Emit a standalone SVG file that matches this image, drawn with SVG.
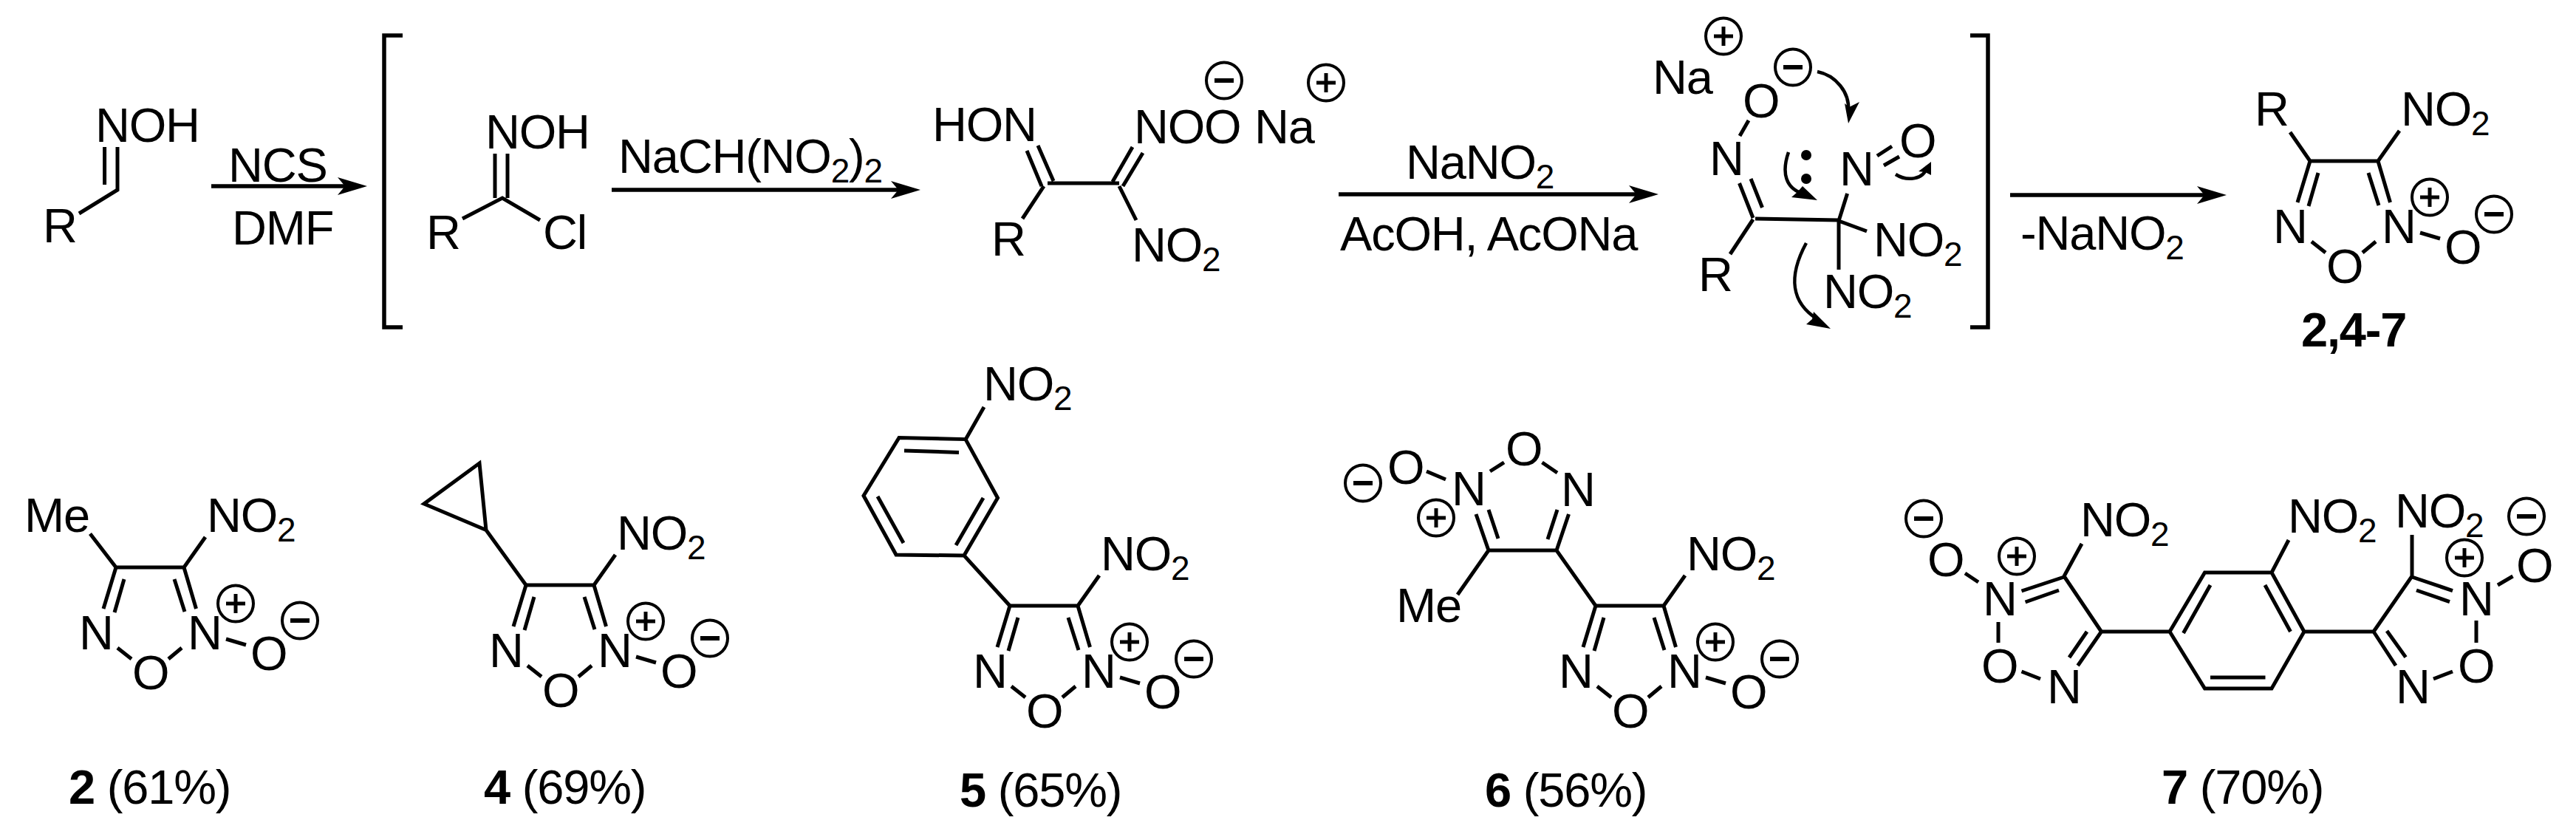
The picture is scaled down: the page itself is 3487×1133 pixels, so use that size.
<svg xmlns="http://www.w3.org/2000/svg" width="3487" height="1133" viewBox="0 0 3487 1133">
<style>
text{font-family:"Liberation Sans",Arial,sans-serif;font-size:65px;letter-spacing:-1.2px;fill:#000}
.s{font-size:46px}
.k{font-weight:bold}
.b{fill:none;stroke:#000;stroke-width:5}
.a{fill:none;stroke:#000;stroke-width:5.5}
.c{fill:none;stroke:#000;stroke-width:4.500}
.h{fill:#000;stroke:none}
</style>
<defs>
<marker id="head" markerUnits="userSpaceOnUse" markerWidth="44" markerHeight="24" viewBox="0 0 40 24" refX="20" refY="12" orient="auto"><path d="M0,0L40,12L0,24L10,12Z" fill="#000"/></marker>
<g id="plus"><ellipse rx="24" ry="24.5" fill="#fff" fill-opacity="0" stroke="#000" stroke-width="4"/><path d="M-13,0H13M0,-13V13" stroke="#000" stroke-width="5"/></g>
<g id="minus"><ellipse rx="24" ry="24.5" fill="#fff" fill-opacity="0" stroke="#000" stroke-width="4"/><path d="M-13,0H13" stroke="#000" stroke-width="6"/></g>
</defs>

<g id="connectors">
<path class="a" d="M286,252H477" marker-end="url(#head)"/>
<path class="a" d="M828,257H1226" marker-end="url(#head)"/>
<path class="a" d="M1812,263H2225" marker-end="url(#head)"/>
<path class="a" d="M2721,264H2994" marker-end="url(#head)"/>
<path class="c" d="M2460,97C2485,102 2504,125 2502,150"/>
<polygon class="h" points="2502,167 2497,140 2503,145 2517,138"/>
<path class="c" d="M2421,206C2411,235 2418,255 2440,262"/>
<polygon class="h" points="2460,271 2425,267 2433,260 2440,252"/>
<path class="c" d="M2445,329C2420,375 2425,410 2460,432"/>
<polygon class="h" points="2478,445 2445,439 2453,432 2455,422"/>
<path class="c" d="M2566,236C2580,245 2604,245 2609,225"/>
<polygon class="h" points="2614,219 2597,232 2606,233 2614,237"/>
</g>

<g id="brackets">
<path class="a" d="M545,48H520V443H545"/>
<path class="a" d="M2667,48H2691V443H2667"/>
</g>

<g id="reagents">
<text x="309" y="246">NCS</text>
<text x="314" y="331">DMF</text>
<text x="837" y="234">NaCH(NO<tspan class="s" dy="13">2</tspan><tspan dy="-13">)</tspan><tspan class="s" dy="13">2</tspan></text>
<text x="1903" y="242">NaNO<tspan class="s" dy="13">2</tspan></text>
<text x="1814" y="339">AcOH, AcONa</text>
<text x="2735" y="338">-NaNO<tspan class="s" dy="13">2</tspan></text>
</g>

<g id="oxime">
<path class="b" d="M141.600,199V250M159,199V257L107,289"/>
<text x="129" y="192">NOH</text>
<text x="58" y="328">R</text>
</g>

<g id="chloro-oxime">
<path class="b" d="M670,208V268M687,208V268M626,296L680,268L731,298"/>
<text x="657" y="201">NOH</text>
<text x="577" y="337">R</text>
<text x="735" y="337">Cl</text>
</g>

<g id="nitronate">
<path class="b" d="M1405,197L1426,245M1390,204L1410,252M1418,248H1515M1533,199L1506,246M1547,207L1520,252M1413,252L1384,296M1515,252L1538,298"/>
<text x="1262" y="191">HON</text>
<text x="1342" y="346">R</text>
<text x="1532" y="354">NO<tspan class="s" dy="13">2</tspan></text>
<text x="1535" y="194">NOO</text>
<text x="1698" y="194">Na</text>
<use href="#minus" x="1657" y="109"/>
<use href="#plus" x="1795" y="112"/>
</g>

<g id="intermediate">
<path class="b" d="M2367,163L2355,184M2370,242L2385.500,281M2354.500,248L2373,295M2376,296L2489,298M2373,297L2342,344M2489,299L2527,313M2489,299V365M2489,299L2500.600,262M2541,211L2561,198M2550,224L2571,212"/>
<text x="2237" y="127">Na</text>
<use href="#plus" x="2333" y="49"/>
<text x="2359" y="159">O</text>
<use href="#minus" x="2427" y="91"/>
<text x="2314" y="237">N</text>
<text x="2299" y="394">R</text>
<text x="2536" y="347">NO<tspan class="s" dy="13">2</tspan></text>
<text x="2468" y="417">NO<tspan class="s" dy="13">2</tspan></text>
<text x="2490" y="251">N</text>
<text x="2571" y="213">O</text>
<circle class="h" cx="2445" cy="210" r="7"/>
<circle class="h" cx="2445" cy="242" r="7"/>
</g>

<g id="product" transform="translate(2970,-550)">
<path class="b" d="M157,768H249M157,768L140,824M168,784L155,829M249,768L265.500,824M236,784L250,828M159,877L178,892M246,877L228,892M306,865L333,873M278,727L249,768M130,729L157,768"/>
<text x="107" y="879">N</text><text x="254" y="879">N</text><text x="179" y="933">O</text><text x="339" y="907">O</text>
<use href="#plus" x="319" y="817"/><use href="#minus" x="406" y="840"/>
<text x="280" y="720">NO<tspan class="s" dy="13">2</tspan></text>
<text x="82" y="720">R</text>
<text class="k" x="145" y="1019">2,4-7</text>
</g>

<g id="mol-2">
<path class="b" d="M157,768H249M157,768L140,824M168,784L155,829M249,768L265.500,824M236,784L250,828M159,877L178,892M246,877L228,892M306,865L333,873M278,727L249,768M122,722.500L157,768"/>
<text x="107" y="879">N</text><text x="254" y="879">N</text><text x="179" y="933">O</text><text x="339" y="907">O</text>
<use href="#plus" x="319" y="817"/><use href="#minus" x="406" y="840"/>
<text x="280" y="720">NO<tspan class="s" dy="13">2</tspan></text>
<text x="33" y="720">Me</text>
<text x="93" y="1088"><tspan class="k">2</tspan> (61%)</text>
</g>

<g id="mol-4">
<g transform="translate(555,24)">
<path class="b" d="M157,768H249M157,768L140,824M168,784L155,829M249,768L265.500,824M236,784L250,828M159,877L178,892M246,877L228,892M306,865L333,873M278,727L249,768"/>
<text x="107" y="879">N</text><text x="254" y="879">N</text><text x="179" y="933">O</text><text x="339" y="907">O</text>
<use href="#plus" x="319" y="817"/><use href="#minus" x="406" y="840"/>
<text x="280" y="720">NO<tspan class="s" dy="13">2</tspan></text>
</g>
<path class="b" d="M712,792L658,717.500L574,682L649,627L658,717.500"/>
<text x="655" y="1088"><tspan class="k">4</tspan> (69%)</text>
</g>

<g id="mol-5">
<g transform="translate(1210,52)">
<path class="b" d="M157,768H249M157,768L140,824M168,784L155,829M249,768L265.500,824M236,784L250,828M159,877L178,892M246,877L228,892M306,865L333,873M278,727L249,768"/>
<text x="107" y="879">N</text><text x="254" y="879">N</text><text x="179" y="933">O</text><text x="339" y="907">O</text>
<use href="#plus" x="319" y="817"/><use href="#minus" x="406" y="840"/>
<text x="280" y="720">NO<tspan class="s" dy="13">2</tspan></text>
</g>
<path class="b" d="M1367,820L1305,752L1350.500,674L1307,594.600L1217,592.500L1169,671L1213,751L1305,752M1224,610L1298,612.500M1188,672L1223,735M1331,674L1294,738M1332,551L1307,595"/>
<text x="1331" y="542">NO<tspan class="s" dy="13">2</tspan></text>
<text x="1299" y="1092"><tspan class="k">5</tspan> (65%)</text>
</g>

<g id="mol-6">
<g transform="translate(2003,52)">
<path class="b" d="M157,768H249M157,768L140,824M168,784L155,829M249,768L265.500,824M236,784L250,828M159,877L178,892M246,877L228,892M306,865L333,873M278,727L249,768"/>
<text x="107" y="879">N</text><text x="254" y="879">N</text><text x="179" y="933">O</text><text x="339" y="907">O</text>
<use href="#plus" x="319" y="817"/><use href="#minus" x="406" y="840"/>
<text x="280" y="720">NO<tspan class="s" dy="13">2</tspan></text>
</g>
<path class="b" d="M2160,820L2107,745H2015M2107,745L2123.500,696M2095,730L2108,690M2015,745L1998,696M2028,729L2015,690M2036,626L2017,638M2087.500,626L2108,640M1931,638L1957,649M2015,745L1973,805"/>
<text x="2113" y="685">N</text>
<text x="1965" y="684">N</text>
<text x="2038" y="630">O</text>
<text x="1878" y="655">O</text>
<use href="#minus" x="1845" y="654"/>
<use href="#plus" x="1944" y="701"/>
<text x="1890" y="842">Me</text>
<text x="2010" y="1092"><tspan class="k">6</tspan> (56%)</text>
</g>

<g id="mol-7">
<path class="b" d="M2818,736L2794,780L2844.500,855M2794,781L2736.500,800M2787,799L2741.600,815M2844.500,855L2812.600,901M2825,855L2801,890M2705,842V870M2736.500,909L2762,919M2660,776L2678,788M2844.500,855H2937M2937,855L2984.500,775H3075L3119,855L3075,932H2984.500L2937,855M2992,792L2955.500,857M3066,792L3100.500,855M2992,917H3066.500M3098,731L3075,775M3119,855H3213M3213,855L3265,780V724M3265,781L3320,799.600M3271,799L3316,814.600M3213,855L3243,901M3231,854L3256.500,889.600M3352,840V870M3320,909L3294,919M3401.500,780L3381,792"/>
<use href="#minus" x="2604" y="702"/>
<text x="2609" y="780">O</text>
<text x="2684" y="833">N</text>
<use href="#plus" x="2730" y="753"/>
<text x="2816" y="726">NO<tspan class="s" dy="13">2</tspan></text>
<text x="2771" y="952">N</text>
<text x="2682" y="924">O</text>
<text x="3097" y="721">NO<tspan class="s" dy="13">2</tspan></text>
<text x="3242" y="714">NO<tspan class="s" dy="13">2</tspan></text>
<text x="3329" y="833">N</text>
<text x="3243" y="952">N</text>
<text x="3327" y="924">O</text>
<text x="3406" y="788">O</text>
<use href="#plus" x="3336" y="755"/>
<use href="#minus" x="3420" y="699"/>
<text x="2926" y="1088"><tspan class="k">7</tspan> (70%)</text>
</g>
</svg>
